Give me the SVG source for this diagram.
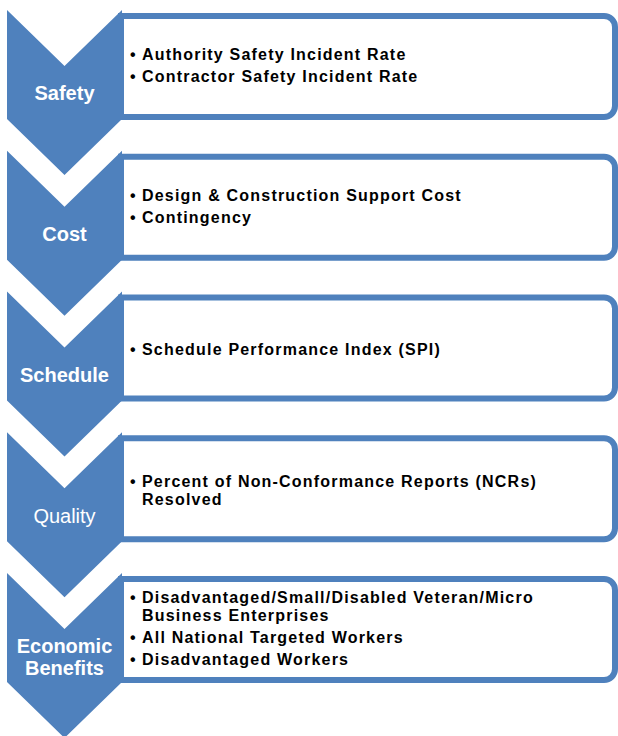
<svg xmlns="http://www.w3.org/2000/svg" width="618" height="736" viewBox="0 0 618 736">
<style>
.chev{fill:#4F81BD}
.box{fill:#FFFFFF;stroke:#4F81BD;stroke-width:6}
.lbl{font-family:"Liberation Sans",Arial,sans-serif;font-size:20px;font-weight:bold;fill:#FFFFFF;text-anchor:middle}
.lbl.n{font-weight:normal}
.item{font-family:"Liberation Sans",Arial,sans-serif;font-size:16px;font-weight:bold;fill:#000000;letter-spacing:1.2px}
</style>
<rect width="618" height="736" fill="#FFFFFF"/>
<g id="connectors"></g>

<g id="safety">
<path class="box" d="M121,16 H604 A11,11 0 0 1 615,27 V106 A11,11 0 0 1 604,117 H121 Z"/>
<polygon class="chev" points="7,10 64.5,66 122,10 122,119 64.5,175 7,119"/>
<text class="lbl" x="64.5" y="100">Safety</text>
<text class="item" y="60"><tspan x="130">•</tspan><tspan x="142">Authority Safety Incident Rate</tspan></text>
<text class="item" y="82"><tspan x="130">•</tspan><tspan x="142">Contractor Safety Incident Rate</tspan></text>
</g>

<g id="cost">
<path class="box" d="M121,156.75 H604 A11,11 0 0 1 615,167.75 V246.75 A11,11 0 0 1 604,257.75 H121 Z"/>
<polygon class="chev" points="7,150.75 64.5,206.75 122,150.75 122,259.75 64.5,315.75 7,259.75"/>
<text class="lbl" x="64.5" y="241">Cost</text>
<text class="item" y="201"><tspan x="130">•</tspan><tspan x="142">Design &amp; Construction Support Cost</tspan></text>
<text class="item" y="223"><tspan x="130">•</tspan><tspan x="142">Contingency</tspan></text>
</g>

<g id="schedule">
<path class="box" d="M121,297.5 H604 A11,11 0 0 1 615,308.5 V387.5 A11,11 0 0 1 604,398.5 H121 Z"/>
<polygon class="chev" points="7,291.5 64.5,347.5 122,291.5 122,400.5 64.5,456.5 7,400.5"/>
<text class="lbl" x="64.5" y="382">Schedule</text>
<text class="item" y="355"><tspan x="130">•</tspan><tspan x="142">Schedule Performance Index (SPI)</tspan></text>
</g>

<g id="quality">
<path class="box" d="M121,438.25 H604 A11,11 0 0 1 615,449.25 V528.25 A11,11 0 0 1 604,539.25 H121 Z"/>
<polygon class="chev" points="7,432.25 64.5,488.25 122,432.25 122,541.25 64.5,597.25 7,541.25"/>
<text class="lbl n" x="64.5" y="523">Quality</text>
<text class="item" y="487"><tspan x="130">•</tspan><tspan x="142">Percent of Non-Conformance Reports (NCRs)</tspan><tspan x="142" dy="18">Resolved</tspan></text>
</g>

<g id="economic-benefits">
<path class="box" d="M121,579 H604 A11,11 0 0 1 615,590 V669 A11,11 0 0 1 604,680 H121 Z"/>
<polygon class="chev" points="7,573 64.5,629 122,573 122,682 64.5,738 7,682"/>
<text class="lbl" x="64.5" y="653">Economic<tspan x="64.5" dy="22">Benefits</tspan></text>
<text class="item" y="603"><tspan x="130">•</tspan><tspan x="142">Disadvantaged/Small/Disabled Veteran/Micro</tspan><tspan x="142" dy="18">Business Enterprises</tspan></text>
<text class="item" y="643"><tspan x="130">•</tspan><tspan x="142">All National Targeted Workers</tspan></text>
<text class="item" y="665"><tspan x="130">•</tspan><tspan x="142">Disadvantaged Workers</tspan></text>
</g>
</svg>
